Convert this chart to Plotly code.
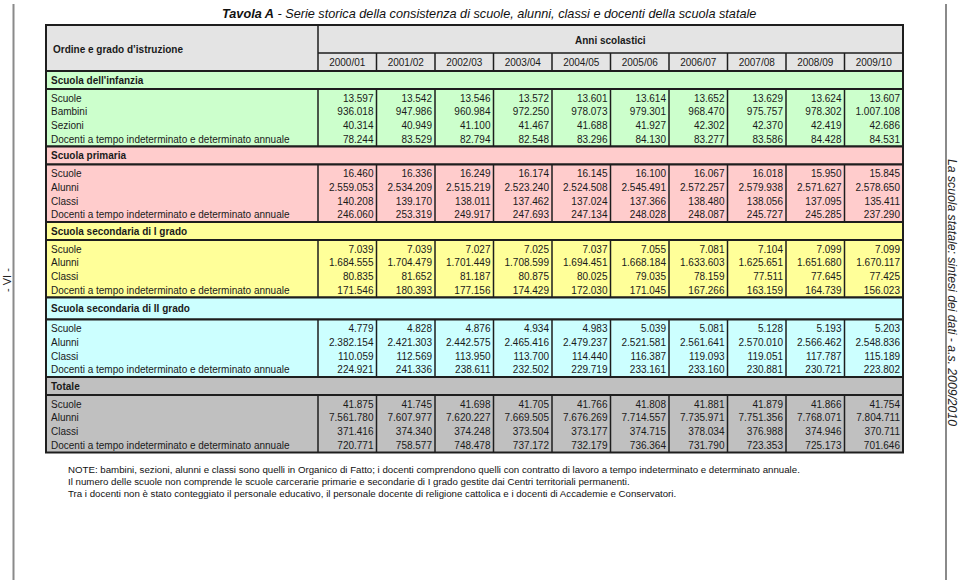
import plotly.graph_objects as go

# Anni scolastici
years = ["2000/01", "2001/02", "2002/03", "2003/04", "2004/05",
         "2005/06", "2006/07", "2007/08", "2008/09", "2009/10"]

# Scuola dell'infanzia
inf_labels = ["Scuole", "Bambini", "Sezioni",
              "Docenti a tempo indeterminato e determinato annuale"]
inf_scuole = [13597, 13542, 13546, 13572, 13601, 13614, 13652, 13629, 13624, 13607]
inf_bambini = [936018, 947986, 960984, 972250, 978073, 979301, 968470, 975757, 978302, 1007108]
inf_sezioni = [40314, 40949, 41100, 41467, 41688, 41927, 42302, 42370, 42419, 42686]
inf_docenti = [78244, 83529, 82794, 82548, 83296, 84130, 83277, 83586, 84428, 84531]

# Scuola primaria
std_labels = ["Scuole", "Alunni", "Classi",
              "Docenti a tempo indeterminato e determinato annuale"]
pri_scuole = [16460, 16336, 16249, 16174, 16145, 16100, 16067, 16018, 15950, 15845]
pri_alunni = [2559053, 2534209, 2515219, 2523240, 2524508, 2545491, 2572257, 2579938, 2571627, 2578650]
pri_classi = [140208, 139170, 138011, 137462, 137024, 137366, 138480, 138056, 137095, 135411]
pri_docenti = [246060, 253319, 249917, 247693, 247134, 248028, 248087, 245727, 245285, 237290]

# Scuola secondaria di I grado
sec1_scuole = [7039, 7039, 7027, 7025, 7037, 7055, 7081, 7104, 7099, 7099]
sec1_alunni = [1684555, 1704479, 1701449, 1708599, 1694451, 1668184, 1633603, 1625651, 1651680, 1670117]
sec1_classi = [80835, 81652, 81187, 80875, 80025, 79035, 78159, 77511, 77645, 77425]
sec1_docenti = [171546, 180393, 177156, 174429, 172030, 171045, 167266, 163159, 164739, 156023]

# Scuola secondaria di II grado
sec2_scuole = [4779, 4828, 4876, 4934, 4983, 5039, 5081, 5128, 5193, 5203]
sec2_alunni = [2382154, 2421303, 2442575, 2465416, 2479237, 2521581, 2561641, 2570010, 2566462, 2548836]
sec2_classi = [110059, 112569, 113950, 113700, 114440, 116387, 119093, 119051, 117787, 115189]
sec2_docenti = [224921, 241336, 238611, 232502, 229719, 233161, 233160, 230881, 230721, 223802]

# Totale
tot_scuole = [41875, 41745, 41698, 41705, 41766, 41808, 41881, 41879, 41866, 41754]
tot_alunni = [7561780, 7607977, 7620227, 7669505, 7676269, 7714557, 7735971, 7751356, 7768071, 7804711]
tot_classi = [371416, 374340, 374248, 373504, 373177, 374715, 378034, 376988, 374946, 370711]
tot_docenti = [720771, 758577, 748478, 737172, 732179, 736364, 731790, 723353, 725173, 701646]

notes = [
    "NOTE: bambini, sezioni, alunni e classi sono quelli in Organico di Fatto; i docenti comprendono quelli con contratto di lavoro a tempo indeterminato e determinato annuale.",
    "Il numero delle scuole non comprende le scuole carcerarie primarie e secondarie di I grado gestite dai Centri territoriali permanenti.",
    "Tra i docenti non è stato conteggiato il personale educativo, il personale docente di religione cattolica e i docenti di Accademie e Conservatori.",
]

sections = [
    ("Scuola dell'infanzia", "#ccffcc", inf_labels,
     [inf_scuole, inf_bambini, inf_sezioni, inf_docenti]),
    ("Scuola primaria", "#ffcccc", std_labels,
     [pri_scuole, pri_alunni, pri_classi, pri_docenti]),
    ("Scuola secondaria di I grado", "#ffff99", std_labels,
     [sec1_scuole, sec1_alunni, sec1_classi, sec1_docenti]),
    ("Scuola secondaria di II grado", "#ccffff", std_labels,
     [sec2_scuole, sec2_alunni, sec2_classi, sec2_docenti]),
    ("Totale", "#c0c0c0", std_labels,
     [tot_scuole, tot_alunni, tot_classi, tot_docenti]),
]

FONT = "Liberation Sans, Arial, sans-serif"
LINE = "#1e1e1e"
W, H = 960, 582

# table geometry (pixel units on hidden axes)
x_left, x_lab, x_right = 46, 318, 903
col_w = (x_right - x_lab) / len(years)
col_edges = [x_lab + i * col_w for i in range(len(years) + 1)]
y_top, y_mid, y_hdr = 25, 53, 71
sec_h = [18, 18, 18, 22, 18]
block_h, row_h, row_pad = 57.5, 13.8, 10


def fmt(v):
    return f"{v:,}".replace(",", ".")


shapes = []


def rect(x0, y0, x1, y1, fill, width=1.5):
    shapes.append(dict(type="rect", xref="x", yref="y", x0=x0, x1=x1, y0=y0, y1=y1,
                       fillcolor=fill, line=dict(color=LINE, width=width), layer="below"))


def vline(x, y0, y1, color=LINE, width=1.5):
    shapes.append(dict(type="line", xref="x", yref="y", x0=x, x1=x, y0=y0, y1=y1,
                       line=dict(color=color, width=width), layer="below"))


fig = go.Figure()

# header
rect(x_left, y_top, x_right, y_hdr, "#e4e4e4", 2)
vline(x_lab, y_top, y_hdr)
shapes.append(dict(type="line", xref="x", yref="y", x0=x_lab, x1=x_right, y0=y_mid, y1=y_mid,
                   line=dict(color=LINE, width=1.5), layer="below"))
for xe in col_edges[1:-1]:
    vline(xe, y_mid, y_hdr)

lab_x, lab_y, lab_txt = [], [], []
sec_x, sec_y, sec_txt = [], [], []
num_cols = [([], [], []) for _ in years]

y = y_hdr
for (name, color, labels, series), sh in zip(sections, sec_h):
    rect(x_left, y, x_right, y + sh, color, 2)
    sec_x.append(x_left + 5)
    sec_y.append(y + sh / 2 + 1)
    sec_txt.append(f"<b>{name}</b>")
    y += sh
    rect(x_left, y, x_right, y + block_h, color, 2)
    for xe in col_edges[:-1]:
        vline(xe, y, y + block_h)
    for i, (lab, vals) in enumerate(zip(labels, series)):
        yc = y + row_pad + i * row_h
        lab_x.append(x_left + 5)
        lab_y.append(yc)
        lab_txt.append(lab)
        for j, v in enumerate(vals):
            num_cols[j][0].append(col_edges[j + 1] - 3)
            num_cols[j][1].append(yc)
            num_cols[j][2].append(fmt(v))
    y += block_h

txt_font = dict(family=FONT, size=10, color="#1a1a1a")

fig.add_trace(go.Scatter(x=lab_x, y=lab_y, text=lab_txt, mode="text",
                         textposition="middle right", textfont=txt_font, hoverinfo="skip"))
fig.add_trace(go.Scatter(x=sec_x, y=sec_y, text=sec_txt, mode="text",
                         textposition="middle right", textfont=txt_font, hoverinfo="skip"))
for cx, cy, ct in num_cols:
    fig.add_trace(go.Scatter(x=cx, y=cy, text=ct, mode="text",
                             textposition="middle left", textfont=txt_font, hoverinfo="skip"))

# header texts
fig.add_trace(go.Scatter(x=[(a + b) / 2 for a, b in zip(col_edges[:-1], col_edges[1:])],
                         y=[(y_mid + y_hdr) / 2 + 1.5] * len(years), text=years, mode="text",
                         textposition="middle center", textfont=txt_font, hoverinfo="skip"))

annotations = [
    dict(x=x_left + 5, y=(y_top + y_hdr) / 2 + 1, text="<b>Ordine e grado d’istruzione</b>",
         xanchor="left", yanchor="middle", font=txt_font),
    dict(x=(x_lab + x_right) / 2, y=(y_top + y_mid) / 2 + 1, text="<b>Anni scolastici</b>",
         xanchor="center", yanchor="middle", font=txt_font),
    dict(x=489, y=14, text="<b><i>Tavola A</i></b><i> - Serie storica della consistenza di scuole, "
         "alunni, classi e docenti della scuola statale</i>",
         xanchor="center", yanchor="middle", font=dict(family=FONT, size=12.7, color="#111")),
    dict(x=7, y=280, text="- VI -", textangle=-90, xanchor="center", yanchor="middle",
         font=dict(family=FONT, size=11, color="#222")),
    dict(x=952, y=292, text="<i>La scuola statale: sintesi dei dati - a.s. 2009/2010</i>",
         textangle=90, xanchor="center", yanchor="middle",
         font=dict(family=FONT, size=12.2, color="#222")),
]
for k, line in enumerate(notes):
    annotations.append(dict(x=66, y=469 + 12 * k, text=line, xanchor="left", yanchor="middle",
                            font=dict(family=FONT, size=9.7, color="#111")))
for a in annotations:
    a.update(xref="x", yref="y", showarrow=False)

# side rules
vline(13.5, 4, 580, "#8a8a8a", 2)
vline(946, 4, 580, "#8a8a8a", 2)

fig.update_layout(
    width=W, height=H, margin=dict(l=0, r=0, t=0, b=0),
    paper_bgcolor="white", plot_bgcolor="white", showlegend=False,
    shapes=shapes, annotations=annotations,
    xaxis=dict(range=[0, W], visible=False, fixedrange=True),
    yaxis=dict(range=[H, 0], visible=False, fixedrange=True),
)

# page body margin off, so the chart fills the window exactly
fig.write_html("out.html", config={"displayModeBar": False},
               post_script="document.body.style.margin='0';")
